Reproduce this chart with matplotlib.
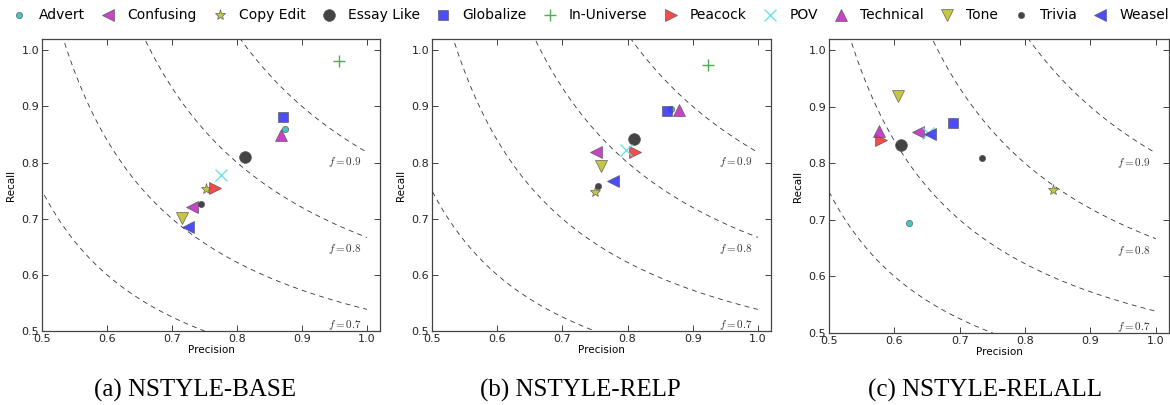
import numpy as np
import matplotlib
matplotlib.use("Agg")
import matplotlib.pyplot as plt

plt.rcParams['mathtext.fontset'] = 'cm'

# styles and their markers / colours
styles = ["Advert", "Confusing", "Copy Edit", "Essay Like", "Globalize", "In-Universe",
          "Peacock", "POV", "Technical", "Tone", "Trivia", "Weasel"]
markers = ["o", "<", "*", "o", "s", "+", ">", "x", "^", "v", "o", "<"]
colors = ["#30c0c0", "#c030c0", "#c0c030", "#303030", "#3a3aff", "#40a040",
          "#f03a3a", "#60e0e0", "#c030c0", "#c0c030", "#303030", "#3a3aff"]
msizes = [4.5, 8, 8, 8.5, 7.5, 9, 8, 9, 8, 8, 4.5, 8]

# precision / recall per panel (nan = not shown)
base_prec = [0.874, 0.731, 0.752, 0.812, 0.871, 0.957, 0.766, 0.775, 0.868, 0.715, 0.744, 0.725]
base_rec = [0.859, 0.721, 0.752, 0.809, 0.881, 0.980, 0.755, 0.777, 0.849, 0.701, 0.726, 0.685]
relp_prec = [0.866, 0.751, 0.750, 0.810, 0.861, 0.924, 0.811, 0.797, 0.879, 0.760, 0.754, 0.777]
relp_rec = [0.895, 0.818, 0.747, 0.842, 0.892, 0.973, 0.818, 0.823, 0.894, 0.793, 0.759, 0.768]
relall_prec = [0.623, 0.636, 0.842, 0.610, 0.689, np.nan, 0.580, 0.652, 0.577, 0.606, 0.734, 0.655]
relall_rec = [0.695, 0.856, 0.752, 0.833, 0.872, np.nan, 0.842, 0.854, 0.858, 0.919, 0.809, 0.852]

captions = ["(a) NSTYLE-BASE", "(b) NSTYLE-RELP", "(c) NSTYLE-RELALL"]
f_scores = [0.6, 0.7, 0.8, 0.9]
f_labels = [(0.7, 0.505), (0.8, 0.64), (0.9, 0.795)]

panels = [(base_prec, base_rec), (relp_prec, relp_rec), (relall_prec, relall_rec)]
positions = [[0.0359, 0.1827, 0.2889, 0.721],
             [0.3692, 0.1827, 0.2897, 0.721],
             [0.7085, 0.178, 0.2906, 0.7257]]
caption_x = [195 / 1170, 580 / 1170, 985 / 1170]

fig = plt.figure(figsize=(11.7, 4.05), dpi=100)

handles = []
for k, (prec, rec) in enumerate(panels):
    ax = fig.add_axes(positions[k])
    # iso-F curves
    for f in f_scores:
        x = np.linspace(0.01, 1, 200)
        y = f * x / (2 * x - f)
        ok = (y >= 0) & (2 * x - f > 0)
        ax.plot(x[ok], y[ok], color="#333333", linestyle=(0, (6, 5)), linewidth=0.6)
    for f, yy in f_labels:
        ax.text(0.94, yy, r"$f=%.1f$" % f, fontsize=8, color="#333333")
    for i, s in enumerate(styles):
        mew = 1.0 if markers[i] in ["+", "x"] else 0.5
        ec = colors[i] if markers[i] in ["+", "x"] else "#555555"
        h, = ax.plot(prec[i], rec[i], linestyle="none", marker=markers[i],
                     markersize=msizes[i], color=colors[i], markeredgecolor=ec,
                     markeredgewidth=mew, alpha=0.9, label=s)
        if k == 0:
            handles.append(h)
    ax.set_xlim(0.5, 1.02)
    ax.set_ylim(0.5, 1.02)
    ax.set_xticks([0.5, 0.6, 0.7, 0.8, 0.9, 1.0])
    ax.set_yticks([0.5, 0.6, 0.7, 0.8, 0.9, 1.0])
    ax.tick_params(direction="in", top=True, right=True, labelsize=8, length=4,
                   width=0.6, pad=2, colors="#222222")
    for sp in ax.spines.values():
        sp.set_color("#444444")
        sp.set_linewidth(0.9)
    ax.set_xlabel("Precision", fontsize=7.5, labelpad=1)
    ax.set_ylabel("Recall", fontsize=7.5, labelpad=4)
    fig.text(caption_x[k], 0.022, captions[k], ha="center", va="baseline",
             fontsize=18, family="Liberation Serif")

fig.legend(handles=handles, labels=styles, loc="upper center", ncol=12,
           bbox_to_anchor=(0.505, 1.01), frameon=False, fontsize=10,
           columnspacing=1.15, handletextpad=0.9, handlelength=1.0, numpoints=1)

fig.savefig("out.png", dpi=100)
